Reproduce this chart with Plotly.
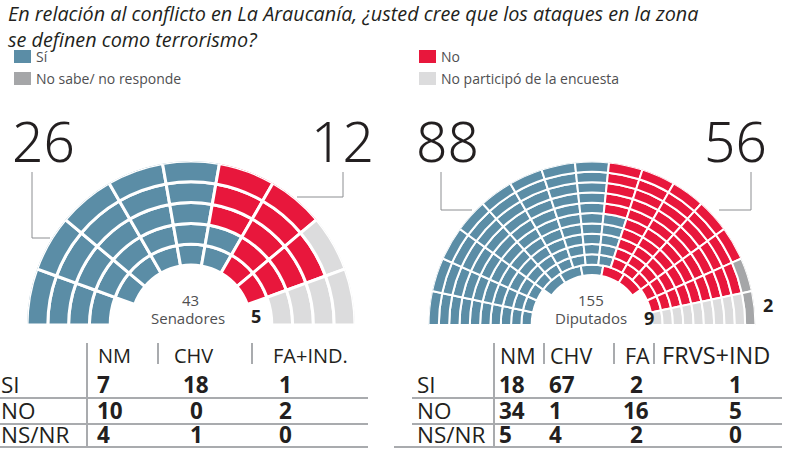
import plotly.graph_objects as go

W, H = 788, 449

# ---------------- data ----------------
title_line1 = "En relación al conflicto en La Araucanía, ¿usted cree que los ataques en la zona"
title_line2 = "se definen como terrorismo?"
legend_labels = ["Sí", "No", "No sabe/ no responde", "No participó de la encuesta"]

senate_block_cats = ["Sí", "No", "No participó de la encuesta"]
senate_block_counts = [26, 12, 5]
senate_total = 43
senate_label = "Senadores"
senate_big_numbers = [26, 12]
senate_small_numbers = [5]

deputies_block_cats = ["Sí", "No", "No sabe/ no responde", "No participó de la encuesta", "No sabe/ no responde"]
deputies_block_counts = [88, 56, 1, 9, 1]
deputies_total = 155
deputies_label = "Diputados"
deputies_big_numbers = [88, 56]
deputies_small_numbers = [9, 2]

table_row_labels = ["SI", "NO", "NS/NR"]
senate_parties = ["NM", "CHV", "FA+IND."]
senate_si = [7, 18, 1]
senate_no = [10, 0, 2]
senate_nsnr = [4, 1, 0]
deputies_parties = ["NM", "CHV", "FA", "FRVS+IND"]
deputies_si = [18, 67, 2, 1]
deputies_no = [34, 1, 16, 5]
deputies_nsnr = [5, 4, 2, 0]

# ---------------- styles ----------------
COLORS = {
    "Sí": "#5b8da6",
    "No": "#e8173c",
    "No sabe/ no responde": "#a5a6a8",
    "No participó de la encuesta": "#dcdcdd",
}
TXT = "#231f20"
GREY_TXT = "#4f4f51"
LINE = "#a9abae"
FONT = "Open Sans"
BIGFONT = "Noto Sans"


def px(x):
    return x / W


def py(y):
    return 1 - y / H


def seat_layout(n_wedges, n_rows, inner_seats, inner_span, r_in, r_out):
    t = (r_out - r_in) / n_rows
    dw = 180.0 / n_wedges
    seats = []
    for row in range(n_rows - 1):
        for w in range(n_wedges):
            seats.append((w * dw + dw / 2, dw, r_out - (row + 1) * t, row))
    a0, a1 = inner_span
    dwi = (a1 - a0) / inner_seats
    for k in range(inner_seats):
        seats.append((a0 + k * dwi + dwi / 2, dwi, r_in, n_rows - 1))
    seats.sort(key=lambda s: (round(s[0], 6), -s[3]))
    return seats, t


def expand(cats, counts):
    out = []
    for c, n in zip(cats, counts):
        out += [c] * n
    return out


fig = go.Figure()


def add_chamber(name, seats, t, seat_cats, line_w):
    for cat in legend_labels:
        th, wd, bs, rr = [], [], [], []
        for s, c in zip(seats, seat_cats):
            if c == cat:
                th.append(s[0]); wd.append(s[1]); bs.append(s[2]); rr.append(t)
        if not th:
            continue
        fig.add_trace(go.Barpolar(
            theta=th, r=rr, base=bs, width=wd, name=cat, subplot=name,
            marker=dict(color=COLORS[cat], line=dict(color="white", width=line_w)),
            showlegend=False, hoverinfo="name",
        ))


s_seats, s_t = seat_layout(9, 5, 7, (20, 160), 60, 164)
add_chamber("polar", s_seats, s_t, expand(senate_block_cats, senate_block_counts), 3)
d_seats, d_t = seat_layout(15, 11, 5, (36, 144), 50, 163.5)
add_chamber("polar2", d_seats, d_t, expand(deputies_block_cats, deputies_block_counts), 2)


def polar_cfg(cx, cy, R):
    return dict(
        domain=dict(x=[px(cx - R), px(cx + R)], y=[py(cy), py(cy - R)]),
        sector=[0, 180], hole=0, bgcolor="rgba(0,0,0,0)",
        radialaxis=dict(range=[0, R], visible=False, showgrid=False),
        angularaxis=dict(visible=False, rotation=180, direction="clockwise", showgrid=False),
    )


shapes = []
ann = []


def text(x, y, s, size, color=TXT, xanchor="left", yanchor="middle", bold=False, italic=False,
         family=FONT, weight=None):
    f = dict(family=family, size=size, color=color)
    if bold:
        f["weight"] = 700
    if weight is not None:
        f["weight"] = weight
    if italic:
        f["style"] = "italic"
    ann.append(dict(x=px(x), y=py(y), xref="paper", yref="paper", text=s, showarrow=False,
                    xanchor=xanchor, yanchor=yanchor, align="left", font=f, borderpad=0))


def line(x0, y0, x1, y1, color=LINE, width=2):
    shapes.append(dict(type="line", xref="paper", yref="paper", x0=px(x0), y0=py(y0), x1=px(x1), y1=py(y1),
                       line=dict(color=color, width=width)))


def path(points, color="#8c8e91", width=1):
    d = "M " + " L ".join(f"{px(x)},{py(y)}" for x, y in points)
    shapes.append(dict(type="path", xref="paper", yref="paper", path=d, line=dict(color=color, width=width)))


def square(x0, y0, x1, y1, color):
    shapes.append(dict(type="rect", xref="paper", yref="paper", x0=px(x0), y0=py(y1), x1=px(x1), y1=py(y0),
                       fillcolor=color, line=dict(width=0)))


# title
text(7, -1, title_line1 + "<br>" + title_line2, 19.8, yanchor="top", italic=True)

# legend
leg_pos = [(14, 57), (419, 57), (14, 79), (419, 79)]
for lab, (lx, ly) in zip(legend_labels, leg_pos):
    square(lx, ly - 7, lx + 17, ly + 6, COLORS[lab])
    text(lx + 21, ly, lab, 14, color=GREY_TXT)

# big numbers + leader lines
for val, cx in zip(senate_big_numbers + deputies_big_numbers, [43.5, 342, 447, 735.5]):
    text(cx, 140, str(val), 55, xanchor="center", family=BIGFONT, weight=300)
path([(32, 172), (32, 238), (50, 238)])
path([(343, 172), (343, 197), (297, 197)])
path([(441, 172), (441, 210), (472, 210)])
path([(751, 172), (751, 210), (719, 210)])

# centre labels
text(190, 311, str(senate_total), 15, color=GREY_TXT, xanchor="center", yanchor="bottom")
text(188, 306.5, senate_label, 15, color=GREY_TXT, xanchor="center", yanchor="top")
text(591, 311, str(deputies_total), 15, color=GREY_TXT, xanchor="center", yanchor="bottom")
text(591, 306.5, deputies_label, 15, color=GREY_TXT, xanchor="center", yanchor="top")
text(256, 316, str(senate_small_numbers[0]), 18, xanchor="center", bold=True)
text(649, 318, str(deputies_small_numbers[0]), 18, xanchor="center", bold=True)
text(768, 305, str(deputies_small_numbers[1]), 18, xanchor="center", bold=True)

# tables
row_y = [384, 410, 434.5]
head_y = 355
TSIZE = 22.5
# senate table
for lab, y in zip(table_row_labels, row_y):
    text(0, y, lab, TSIZE)
for p, x in zip(senate_parties, [97, 173, 272]):
    text(x, head_y, p, 20)
s_vals = [senate_si, senate_no, senate_nsnr]
s_cols = [(96, "left"), (196, "center"), (278, "left")]
for vals, y in zip(s_vals, row_y):
    for v, (x, a) in zip(vals, s_cols):
        text(x, y, str(v), TSIZE, xanchor=a, bold=True)
for y in [398, 424, 447]:
    line(0, y, 368, y)
line(87, 343, 87, 448)
line(158, 343, 158, 364)
line(252, 343, 252, 364)

# deputies table
for lab, y in zip(table_row_labels, row_y):
    text(416, y, lab, TSIZE)
for p, x, sz in zip(deputies_parties, [499, 549, 624, 661], [21.5, 21.5, 21.5, 23.5]):
    text(x, head_y, p, sz)
d_vals = [deputies_si, deputies_no, deputies_nsnr]
d_cols = [(498, "left"), (548, "left"), (636, "center"), (735, "center")]
for vals, y in zip(d_vals, row_y):
    for v, (x, a) in zip(vals, d_cols):
        text(x, y, str(v), TSIZE, xanchor=a, bold=True)
for y in [398, 424]:
    line(412, y, 782, y)
line(394, 447, 782, 447)
line(494, 343, 494, 448)
line(544, 343, 544, 364)
line(614, 343, 614, 364)
line(654, 343, 654, 364)

fig.update_layout(
    width=W, height=H, margin=dict(l=0, r=0, t=0, b=0),
    paper_bgcolor="white", plot_bgcolor="white",
    polar=polar_cfg(191, 325, 164),
    polar2=polar_cfg(592, 325, 163.5),
    shapes=shapes, annotations=ann, showlegend=False,
)

fig.write_html("out.html", config={"displayModeBar": False},
               post_script="document.body.style.margin='0';document.body.style.padding='0';")
